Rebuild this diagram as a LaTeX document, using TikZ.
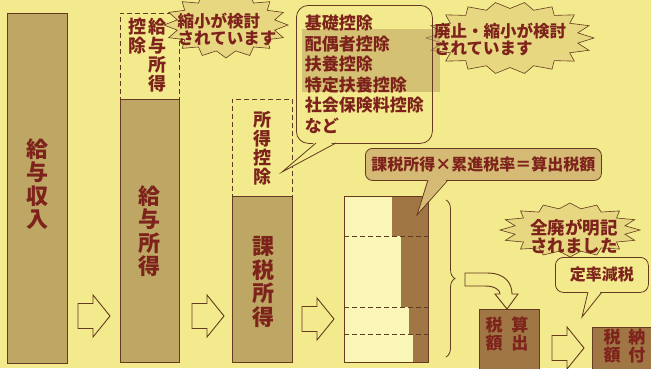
\documentclass[tikz,border=0pt]{standalone}
\usepackage{fontspec}
\newfontfamily\jp{Noto Sans CJK JP}
\usetikzlibrary{decorations.pathreplacing}
\definecolor{bg}{RGB}{242,234,140}
\definecolor{barc}{RGB}{190,166,100}
\definecolor{darkc}{RGB}{160,118,68}
\definecolor{edge}{RGB}{100,58,32}
\definecolor{txt}{RGB}{125,35,28}
\definecolor{light}{RGB}{250,246,182}
\definecolor{hl}{RGB}{190,160,95}
\definecolor{burstc}{RGB}{230,215,128}
\definecolor{bubc}{RGB}{212,186,116}
\newcommand\burstshape[7]{% cx, cy, rx, ry, points, last index (2n-1), inner factor
  \path[burstline] ({#1+#3},{#2}) \foreach \k in {1,...,#6} {
    -- ({#1+#3*ifthenelse(mod(\k,2)==0,1,#7)*cos(\k*180/#5)},{#2+#4*ifthenelse(mod(\k,2)==0,1,#7)*sin(\k*180/#5)}) } -- cycle;}
\begin{document}
\begin{tikzpicture}[x=1pt,y=-1pt,
  bar/.style={draw=edge,fill=barc,line width=0.8pt,anchor=north west,inner sep=0pt},
  dashbox/.style={draw=edge,dash pattern=on 5pt off 3pt,line width=0.8pt,anchor=north west,inner sep=0pt},
  vbig/.style={align=center,text=txt,inner sep=0pt,font=\jp\bfseries\fontsize{22}{23.5}\selectfont},
  vsmall/.style={align=center,text=txt,inner sep=0pt,font=\jp\bfseries\fontsize{18}{19}\selectfont},
  burstline/.style={draw=edge,fill=burstc,line width=0.6pt,line join=miter},
  bursttext/.style={align=left,text=txt,inner sep=0pt,font=\jp\bfseries\fontsize{16.5}{17}\selectfont},
  arrline/.style={draw=edge,line width=0.9pt,fill=bg,line join=miter},
  hollowarrow/.pic={\path[arrline] (0,-12.5) -- (15,-12.5) -- (15,-21) -- (32,0) -- (15,21) -- (15,12.5) -- (0,12.5) -- cycle;}
]
\useasboundingbox (0,0) rectangle (651,368);
\fill[bg] (0,0) rectangle (651,368);

% bar 1
\node[bar,minimum width=60pt,minimum height=350pt] (income) at (7,13) {};
\node[vbig] (incometext) at (37,184) {給\\与\\収\\入};

% bar 2
\node[dashbox,minimum width=59pt,minimum height=86pt] (kdeduct) at (120,13) {};
\node[bar,minimum width=59pt,minimum height=263pt] (kincome) at (120,99) {};
\node[vbig] (kincometext) at (149.5,231) {給\\与\\所\\得};
\node[vsmall,anchor=north] (kdtext1) at (157,18) {給\\与\\所\\得};
\node[vsmall,anchor=north] (kdtext2) at (137,18) {控\\除};

% burst 1
\burstshape{226}{25}{62}{33}{16}{31}{0.8}
\node[bursttext] (burst1text) at (227,29) {縮小が検討\\されています};

% bar 3
\node[dashbox,minimum width=60pt,minimum height=97pt] (sdeduct) at (232,99) {};
\node[bar,minimum width=60pt,minimum height=166pt] (taxable) at (232,196) {};
\node[vsmall] (sdtext) at (262,148) {所\\得\\控\\除};
\node[vbig] (taxabletext) at (263,282) {課\\税\\所\\得};

% arrows between bars
\pic (arr1) at (78,316) {hollowarrow};
\pic (arr2) at (192,316) {hollowarrow};
\pic (arr3) at (302,319) {hollowarrow};

% burst 2
\burstshape{510}{38}{84}{36}{18}{35}{0.82}
\fill[hl,fill opacity=0.55] (302,29) rectangle (440,92);
\node[bursttext,anchor=west] (burst2text) at (434,39) {廃止・縮小が検討\\されています};

% deduction list bubble
\node[draw=edge,rounded corners=12pt,line width=0.8pt,minimum width=136pt,minimum height=138pt,anchor=north west,
  align=left,inner sep=0pt,text=txt,font=\jp\bfseries\fontsize{17}{20.5}\selectfont] (dlist) at (296,5)
  {基礎控除\\配偶者控除\\扶養控除\\特定扶養控除\\社会保険料控除\\など};
\fill[bg] (316,141) -- (336,141) -- (282,172) -- cycle;
\draw[edge,line width=0.8pt] (316,143) -- (282,172) -- (336,143);

% bracket bar
\node[draw=edge,fill=light,line width=0.8pt,anchor=north west,inner sep=0pt,minimum width=84pt,minimum height=166pt] (brackets) at (344,196) {};
\fill[darkc] (392,196) rectangle (428,236);
\fill[darkc] (401,236) rectangle (428,307);
\fill[darkc] (409,307) rectangle (428,334);
\fill[darkc] (413,334) rectangle (428,362);
\draw[edge,line width=0.8pt] (brackets.north west) rectangle (brackets.south east);
\draw[edge,line width=0.8pt,dash pattern=on 5pt off 3pt] (344,236) -- (428,236) (344,307) -- (428,307) (344,334) -- (428,334);

% formula bubble
\node[draw=edge,fill=bubc,rounded corners=7pt,line width=0.8pt,minimum width=236pt,minimum height=32pt,anchor=north west,
  inner sep=0pt,text=txt,font=\jp\bfseries\fontsize{16}{18}\selectfont] (formula) at (365,148) {課税所得×累進税率＝算出税額};
\fill[bubc] (428,178) -- (448,178) -- (417,215) -- cycle;
\draw[edge,line width=0.8pt] (428,180) -- (417,215) -- (448,180);

% brace
\draw[edge,line width=0.8pt,decorate,decoration={brace,amplitude=9pt}] (446,200) -- (446,357);

% curved arrow
\path[arrline] (465,273) -- (487,273) .. controls (505,273) and (512,283) .. (512,294) -- (518,294) -- (507,309)
  -- (495,294) -- (500,294) .. controls (500,290) and (495,286) .. (485,286) -- (465,286) -- cycle;

% computed tax box
\node[draw=edge,fill=darkc,line width=0.8pt,anchor=north west,inner sep=0pt,minimum width=60pt,minimum height=62pt] (comptax) at (479,309) {};
\node[align=center,text=txt,inner sep=0pt,font=\jp\bfseries\fontsize{17}{18}\selectfont] (comptaxtext) at (507,334) {税\hspace{9pt}算\\額\hspace{9pt}出};

% arrow to payment
\pic (arr4) at (552,348) {hollowarrow};

% payment box
\node[draw=edge,fill=darkc,line width=0.8pt,anchor=north west,inner sep=0pt,minimum width=65pt,minimum height=48pt] (paytax) at (592,327) {};
\node[align=center,text=txt,inner sep=0pt,font=\jp\bfseries\fontsize{17}{18}\selectfont] (paytaxtext) at (624.5,346) {税\hspace{8pt}納\\額\hspace{8pt}付};

% burst 3
\burstshape{570}{230}{70}{27}{16}{31}{0.8}
\node[bursttext,font=\jp\bfseries\fontsize{17.5}{18}\selectfont] (burst3text) at (574,236) {全廃が明記\\されました};

% flat-rate cut bubble
\node[draw=edge,fill=bg,rounded corners=8pt,line width=0.8pt,minimum width=93pt,minimum height=35pt,anchor=north west,
  inner sep=0pt,text=txt,font=\jp\bfseries\fontsize{16}{18}\selectfont] (flatcut) at (555,257) {定率減税};
\fill[bg] (588,290) -- (602,290) -- (582,317) -- cycle;
\draw[edge,line width=0.8pt] (588,292) -- (582,317) -- (602,292);
\end{tikzpicture}
\end{document}
